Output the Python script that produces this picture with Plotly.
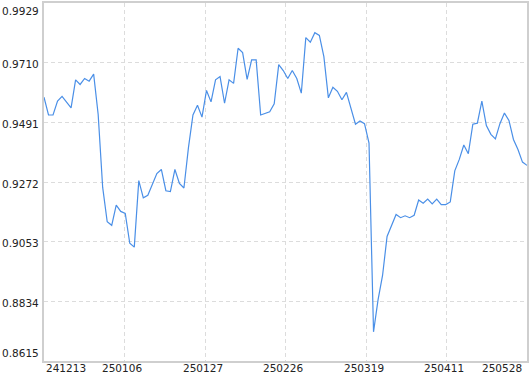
import plotly.graph_objects as go

values = [
    0.9583, 0.9518, 0.9518, 0.9569, 0.9586, 0.9566, 0.9544, 0.9647, 0.9630, 0.9652,
    0.9642, 0.9668, 0.9520, 0.9252, 0.9126, 0.9113, 0.9187, 0.9164, 0.9157, 0.9047,
    0.9033, 0.9277, 0.9214, 0.9223, 0.9265, 0.9303, 0.9318, 0.9240, 0.9237, 0.9318,
    0.9267, 0.9250, 0.9398, 0.9518, 0.9554, 0.9510, 0.9608, 0.9566, 0.9647, 0.9659,
    0.9561, 0.9647, 0.9634, 0.9763, 0.9747, 0.9649, 0.9720, 0.9720, 0.9518, 0.9525,
    0.9530, 0.9559, 0.9703, 0.9681, 0.9652, 0.9681, 0.9652, 0.9598, 0.9802, 0.9785,
    0.9820, 0.9810, 0.9732, 0.9581, 0.9620, 0.9605, 0.9574, 0.9601, 0.9544, 0.9484,
    0.9496, 0.9486, 0.9415, 0.8722, 0.8839, 0.8929, 0.9072, 0.9114, 0.9153, 0.9141,
    0.9148, 0.9141, 0.9150, 0.9206, 0.9194, 0.9209, 0.9192, 0.9209, 0.9189, 0.9189,
    0.9199, 0.9313, 0.9355, 0.9408, 0.9376, 0.9484, 0.9488, 0.9569, 0.9479, 0.9447,
    0.9430, 0.9486, 0.9525, 0.9498, 0.9428, 0.9391, 0.9345, 0.9333,
]
x_labels = ["241213", "250106", "250127", "250226", "250319", "250411", "250528"]
y_ticks = [0.8615, 0.8834, 0.9053, 0.9272, 0.9491, 0.9710, 0.9929]

n = len(values)
xs = list(range(n))
tick_pos = [i * (n - 1) / (len(x_labels) - 1) for i in range(len(x_labels))]

FONT = "DejaVu Sans"
FS = 10.5
GRID = "#dcdcdc"

fig = go.Figure()
fig.add_trace(go.Scatter(x=xs, y=values, mode="lines",
                         line=dict(color="#4a8fe7", width=1.2),
                         hoverinfo="skip", showlegend=False))

annotations = []
for i, (pos, lab) in enumerate(zip(tick_pos, x_labels)):
    if i == 0:
        anchor, shift = "left", 0
    elif i == len(x_labels) - 1:
        anchor, shift = "right", -3
    else:
        anchor, shift = "center", -2.5
    annotations.append(dict(x=pos, xref="x", y=0, yref="paper", text=lab,
                            showarrow=False, xanchor=anchor, yanchor="top",
                            xshift=shift, yshift=1,
                            font=dict(family=FONT, size=FS, color="#222")))
for j, v in enumerate(y_ticks):
    if j == 0:
        ya, ys = "bottom", 0
    elif j == len(y_ticks) - 1:
        ya, ys = "top", 0
    else:
        ya, ys = "middle", -1.5
    annotations.append(dict(x=0, xref="paper", y=v, yref="y", text=f"{v:.4f}",
                            showarrow=False, xanchor="right", yanchor=ya,
                            xshift=-3, yshift=ys,
                            font=dict(family=FONT, size=FS, color="#222")))

fig.update_layout(
    width=530, height=374,
    margin=dict(l=44, r=2, t=1, b=13),
    paper_bgcolor="white", plot_bgcolor="white",
    annotations=annotations,
    xaxis=dict(range=[0, n - 1], tickvals=tick_pos, showticklabels=False,
               showgrid=True, gridcolor=GRID, griddash="4px,3px", gridwidth=1,
               zeroline=False, showline=True, linecolor="#cfcfcf", linewidth=1.5,
               mirror=True, ticks=""),
    yaxis=dict(range=[y_ticks[0], y_ticks[-1]], tickvals=y_ticks, showticklabels=False,
               showgrid=True, gridcolor=GRID, griddash="4px,3px", gridwidth=1,
               zeroline=False, showline=True, linecolor="#cfcfcf", linewidth=1.5,
               mirror=True, ticks=""),
)

fig.write_html("out.html")
